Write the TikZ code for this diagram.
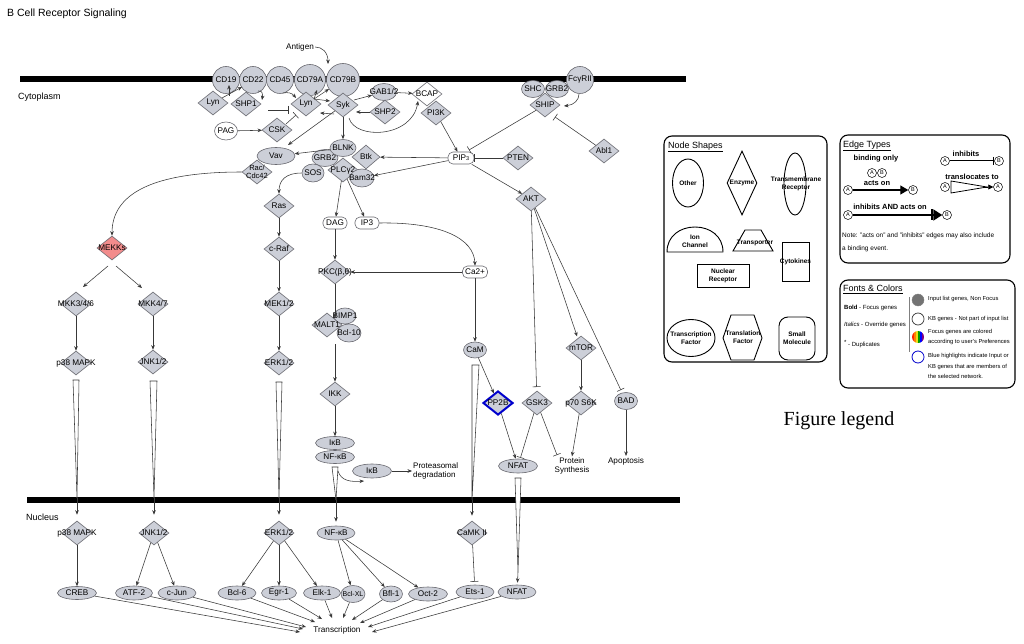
\documentclass[tikz,border=0pt]{standalone}
\usepackage{fontspec}
\setmainfont{Liberation Sans}
\newfontfamily\legserif{Liberation Serif}
\usetikzlibrary{shapes.geometric,arrows.meta,calc}
\definecolor{gfill}{RGB}{204,207,216}
\definecolor{gline}{RGB}{105,105,112}
\definecolor{pinkf}{RGB}{242,140,140}
\definecolor{hblue}{RGB}{0,0,205}
\newcommand{\zw}[1]{\makebox[0pt]{#1}}
\begin{document}
\begin{tikzpicture}[x=1pt,y=-1pt,font=\fontsize{8.2}{9}\selectfont]
\tikzset{
 gene/.style={draw=gline, fill=gfill, line width=0.6pt, inner sep=0pt},
 enz/.style={gene, diamond, minimum width=30pt, minimum height=24pt},
 oth/.style={gene, ellipse},
 memb/.style={gene, circle},
 smol/.style={draw=gline, fill=white, rectangle, rounded corners=5pt, line width=0.6pt, inner sep=0pt, minimum width=24pt, minimum height=12pt},
 con/.style={draw=black!78, line width=0.55pt},
 arr/.style={con, -{Stealth[length=4.5pt,width=3.6pt]}},
 inh/.style={con, -{Bar[width=8pt]}},
 tloc/.style={draw=black!78, fill=white, line width=0.55pt},
 txt/.style={inner sep=1pt, align=center},
 membar/.style={line width=6.5pt, black},
 legbox/.style={draw=black, line width=1.1pt, rounded corners=8pt},
 lgs/.style={draw=black, line width=0.9pt, fill=white, inner sep=0pt},
 lgshape/.style={draw=black, line width=0.9pt, fill=white},
 lgtext/.style={inner sep=0pt, align=center, font=\bfseries\fontsize{6.5}{8}\selectfont},
 lgb/.style={inner sep=0pt, font=\bfseries\fontsize{7.5}{8}\selectfont},
 lghead/.style={anchor=west, inner sep=0pt, font=\fontsize{9}{10}\selectfont},
 ab/.style={circle, draw=black, fill=white, line width=0.5pt, minimum size=9pt, inner sep=0pt, font=\fontsize{5.5}{6}\selectfont},
 fctext/.style={anchor=west, inner sep=0pt, align=left, font=\fontsize{5.8}{10.5}\selectfont},
 fcleft/.style={anchor=west, inner sep=0pt, font=\fontsize{6}{7}\selectfont},
}
\useasboundingbox (0,0) rectangle (1024,644);
\fill[white] (0,0) rectangle (1024,644);

% ---------- title and compartments
\node[anchor=west, inner sep=0pt, font=\fontsize{10.5}{12}\selectfont] (title) at (7,14) {B Cell Receptor Signaling};
\draw[membar] (20,79) -- (686,79);
\draw[membar] (27,500) -- (680,500);
\node[anchor=west, inner sep=0pt, font=\fontsize{9}{10}\selectfont] (cyto) at (18,97) {Cytoplasm};
\node[anchor=west, inner sep=0pt, font=\fontsize{9}{10}\selectfont] (nucl) at (26,517) {Nucleus};

% ---------- membrane
\node[txt] (antigen) at (300,47) {Antigen};
\node[memb, minimum size=27pt] (cd19) at (226,80) {\zw{CD19}};
\node[memb, minimum size=27pt] (cd22) at (253,80) {\zw{CD22}};
\node[memb, minimum size=27pt] (cd45) at (280,80) {\zw{CD45}};
\node[memb, minimum size=31pt] (cd79a) at (310,80) {\zw{CD79A}};
\node[memb, minimum size=33pt] (cd79b) at (343,80) {\zw{CD79B}};
\node[enz] (lynL) at (213,103) {\zw{Lyn}};
\node[enz] (shp1) at (246,104) {\zw{SHP1}};
\node[enz] (lynM) at (306,104) {\zw{Lyn}};
\node[enz] (syk) at (343,105) {\zw{Syk}};
\node[oth, fill=white, minimum width=23pt, minimum height=18pt] (pag) at (226,131) {\zw{PAG}};
\node[enz] (csk) at (277,130) {\zw{CSK}};
\node[oth, minimum width=25pt, minimum height=17pt] (gab) at (384,92) {\zw{GAB1/2}};
\node[enz] (shp2) at (385,112) {\zw{SHP2}};
\node[enz, fill=white] (bcap) at (427,94) {\zw{BCAP}};
\node[enz] (pi3k) at (436,113) {\zw{PI3K}};
\node[oth, minimum width=23pt, minimum height=17pt] (shc) at (533,89) {\zw{SHC}};
\node[oth, minimum width=23pt, minimum height=17pt] (grb2a) at (557,89) {\zw{GRB2}};
\node[memb, minimum size=27pt] (fcg) at (580,80) {\zw{FcγRII}};
\node[enz] (ship) at (545,105) {\zw{SHIP}};
\node[enz] (abl) at (604,151) {\zw{Abl1}};
\node[enz] (pten) at (518,158) {\zw{PTEN}};
\node[smol, minimum width=26pt] (pip3) at (461,158) {\zw{PIP{\fontsize{5.5}{6}\selectfont 3}}};

% ---------- BLNK cluster
\node[oth, minimum width=26pt, minimum height=17pt] (grb2b) at (325,158) {\zw{GRB2}};
\node[oth, minimum width=22pt, minimum height=18pt] (sos) at (313,173) {\zw{SOS}};
\node[oth, minimum width=26pt, minimum height=17pt] (blnk) at (343,148) {\zw{BLNK}};
\node[enz, minimum width=28pt] (btk) at (366,157) {\zw{Btk}};
\node[enz] (plc) at (343,170) {\zw{PLCγ2}};
\node[oth, minimum width=24pt, minimum height=18pt] (bam) at (362,178) {\zw{Bam32}};
\node[oth, minimum width=38pt, minimum height=17pt] (vav) at (276,156) {\zw{Vav}};
\node[enz] (rac) at (257,172) {};
\node[txt, inner sep=0pt, font=\fontsize{7.5}{8.5}\selectfont] (racl) at (rac) {Rac/\\Cdc42};
\node[enz] (akt) at (531,199) {\zw{AKT}};

% ---------- middle column
\node[enz] (ras) at (279,206) {\zw{Ras}};
\node[enz] (craf) at (279,249) {\zw{c-Raf}};
\node[enz] (mek) at (279,304) {\zw{MEK1/2}};
\node[enz] (erkc) at (279,363) {\zw{ERK1/2}};
\node[smol] (dag) at (335,223) {\zw{DAG}};
\node[smol] (ip3) at (367,223) {\zw{IP3}};
\node[enz] (pkc) at (335,272) {\zw{PKC(β,θ)}};
\node[smol, minimum width=25pt] (ca) at (475,272) {\zw{Ca2+}};
\node[enz] (malt) at (327,325) {};
\node[oth, minimum width=22pt, minimum height=16pt] (bimp) at (345,316) {\zw{BIMP1}};
\node[oth, minimum width=24pt, minimum height=18pt] (bcl10) at (349,333) {\zw{Bcl-10}};
\node[txt, inner sep=0pt] (maltl) at (malt) {MALT1};
\node[enz] (ikk) at (335,394) {\zw{IKK}};
\node[oth, minimum width=39pt, minimum height=13pt] (ikb) at (335,443) {\zw{IκB}};
\node[oth, minimum width=39pt, minimum height=13pt] (nfkb) at (335,457) {\zw{NF-κB}};
\node[oth, minimum width=39pt, minimum height=14pt] (ikb2) at (372,471) {\zw{IκB}};
\node[txt, anchor=west, align=left, font=\fontsize{8}{9.5}\selectfont] (prot) at (412,471) {Proteasomal\\degradation};

% ---------- right column
\node[oth, minimum width=23pt, minimum height=16pt] (cam) at (475,350) {\zw{CaM}};
\node[enz, draw=hblue, line width=2pt] (pp2b) at (498,403) {\zw{PP2B}};
\node[enz] (gsk) at (537,403) {\zw{GSK3}};
\node[enz] (mtor) at (581,348) {\zw{mTOR}};
\node[enz] (p70) at (581,403) {\zw{p70 S6K}};
\node[oth, minimum width=23pt, minimum height=17pt] (bad) at (626,401) {\zw{BAD}};
\node[oth, minimum width=39pt, minimum height=14pt] (nfatc) at (518,466) {\zw{NFAT}};
\node[txt, font=\fontsize{8}{9.5}\selectfont] (protsyn) at (572,466) {Protein\\Synthesis};
\node[txt] (apop) at (626,461) {Apoptosis};

% ---------- left columns
\node[enz, fill=pinkf] (mekk) at (112,248) {\zw{MEKKs}};
\node[enz] (mkk36) at (76,304) {\zw{MKK3/4/6}};
\node[enz] (mkk47) at (153,304) {\zw{MKK4/7}};
\node[enz] (p38c) at (76,363) {\zw{p38 MAPK}};
\node[enz] (jnkc) at (153,362) {\zw{JNK1/2}};

% ---------- nucleus
\node[enz] (p38n) at (77,533) {\zw{p38 MAPK}};
\node[enz] (jnkn) at (154,533) {\zw{JNK1/2}};
\node[enz] (erkn) at (279,533) {\zw{ERK1/2}};
\node[oth, minimum width=38pt, minimum height=14pt] (nfkbn) at (336,533) {\zw{NF-κB}};
\node[enz] (camk) at (472,533) {\zw{CaMK II}};
\node[oth, minimum width=39pt, minimum height=13pt] (creb) at (77,593) {\zw{CREB}};
\node[oth, minimum width=37pt, minimum height=14pt] (atf) at (134,593) {\zw{ATF-2}};
\node[oth, minimum width=38pt, minimum height=14pt] (cjun) at (177,593) {\zw{c-Jun}};
\node[oth, minimum width=38pt, minimum height=14pt] (bcl6) at (237,593) {\zw{Bcl-6}};
\node[oth, minimum width=35pt, minimum height=14pt] (egr) at (279,593) {\zw{Egr-1}};
\node[oth, minimum width=37pt, minimum height=14pt] (elk) at (322,593) {\zw{Elk-1}};
\node[oth, minimum width=24pt, minimum height=17pt] (bclxl) at (353,594) {\zw{\fontsize{7}{8}\selectfont Bcl-XL}};
\node[oth, minimum width=23pt, minimum height=16pt] (bfl) at (391,594) {\zw{Bfl-1}};
\node[oth, minimum width=39pt, minimum height=14pt] (oct) at (428,594) {\zw{Oct-2}};
\node[oth, minimum width=38pt, minimum height=14pt] (ets) at (475,592) {\zw{Ets-1}};
\node[oth, minimum width=38pt, minimum height=14pt] (nfatn) at (517,592) {\zw{NFAT}};
\node[txt] (trans) at (337,630) {Transcription};

% ================= connectors
\draw[arr] (antigen.east) .. controls (322,47) and (328,52) .. ($(cd79b)+(-15,-16)$);
\draw[arr] ($(lynL)+(16,-7)$) -- ($(cd19)+(3,5)$);
\draw[arr] ($(lynL)+(9,-5)$) -- ($(cd22)+(-11,7)$);
\draw[arr] ($(cd22)+(5,11)$) .. controls (262,90) and (263,94) .. ($(shp1)+(16,-4)$);
\draw[arr] ($(cd45)+(3,13)$) .. controls (288,92) and (292,93) .. ($(lynM)+(-10,-6)$);
\draw[inh] ($(shp1)+(22,6)$) -- ($(lynM)+(-17,6)$);
\draw[arr] ($(lynM)+(8,-5)$) -- ($(cd79a)+(7,10)$);
\draw[arr] ($(lynM)+(8,-5)$) -- ($(cd79b)+(-14,9)$);
\draw[arr] ($(lynM)+(8,-5)$) -- ($(syk)+(-13,-4)$);
\draw[arr] ($(syk)+(-9,9)$) -- ($(lynM)+(14,9)$);
\draw[inh] ($(csk)+(9,-6)$) -- ($(lynM)+(-10,11)$);
\draw[arr] (pag) -- (csk);
\draw[arr] ($(syk)+(11,-5)$) -- (gab);
\draw[arr] (shp2) -- ($(syk)+(13,7)$);
\draw[arr] (gab) -- (bcap);
\draw[arr] ($(syk)+(6,13)$) .. controls (355,140) and (412,138) .. ($(bcap)+(-9,7)$);
\draw[arr] (pi3k) -- (pip3);
\draw[inh] (ship) -- ($(pip3)+(8,-8)$);
\draw[arr] ($(fcg)+(-1,14)$) .. controls (579,100) and (574,105) .. ($(ship)+(19,1)$);
\draw[inh] (abl) -- ($(ship)+(10,12)$);
\draw[inh] (pten) -- (pip3);
\draw[arr] (pip3) -- (btk);
\draw[arr] (pip3) -- (bam);
\draw[arr] (pip3) -- (akt);
\draw[arr] (blnk) -- (vav);
\draw[arr] (syk) -- ($(vav)+(12,-11)$);
\draw[arr] (syk) -- (blnk);
\draw[arr] (rac.west) .. controls (150,172) and (112,195) .. (mekk.north);
\draw[arr] (sos.west) .. controls (286,173) and (279,180) .. (ras.north);
\draw[arr] (plc) -- (dag);
\draw[arr] (plc) -- (ip3);
\draw[arr] (dag) -- (pkc);
\draw[arr] (ip3.east) .. controls (440,222) and (474,238) .. (ca.north);
\draw[arr] (ca) -- (pkc);
\draw[arr] (ca) -- (cam);
\draw[arr] (pkc) -- ($(malt)+(8,-7)$);
\draw[arr] ($(malt)+(8,19)$) -- (ikk);
\draw[arr] (ikk) -- (ikb);
\draw[arr] ($(nfkb)+(3,14)$) .. controls (341,481) and (351,482) .. ($(ikb2)+(-8,10)$);
\draw[arr] (ikb2) -- (prot.west);
\draw[arr] (ras) -- (craf);
\draw[arr] (craf) -- (mek);
\draw[arr] (mek) -- (erkc);
\draw[arr] ($(mekk)+(-4,18)$) -- ($(mkk36)+(7,-17)$);
\draw[arr] ($(mekk)+(4,18)$) -- ($(mkk47)+(-11,-16)$);
\draw[arr] (mkk36) -- (p38c);
\draw[arr] (mkk47) -- (jnkc);
\draw[inh, shorten >=4pt] (akt) -- (gsk);
\draw[arr, shorten >=2pt] (akt) -- (mtor);
\draw[inh, shorten >=3pt] (akt) -- (bad);
\draw[arr] (cam) -- (pp2b);
\draw[arr] (pp2b) -- (nfatc);
\draw[inh, shorten >=1pt] (gsk) -- (nfatc);
\draw[inh] (gsk) -- ($(protsyn)+(-15,-11)$);
\draw[arr] (mtor) -- (p70);
\draw[arr] (p70) -- (protsyn.north);
\draw[arr] (bad) -- (apop);

% translocations
\coordinate (tp38) at (77,498);
\coordinate (tjnk) at (154,498);
\coordinate (terk) at (279,498);
\coordinate (tnfkb) at (336,500);
\coordinate (tcam) at (472,500);
\coordinate (tnfat) at (518,572);
\draw[tloc] ($(p38c)+(-3,17)$) -- ($(p38c)+(3,17)$) -- (tp38) -- cycle;
\draw[tloc] ($(jnkc)+(-3,19)$) -- ($(jnkc)+(4,19)$) -- (tjnk) -- cycle;
\draw[tloc] ($(erkc)+(-3,19)$) -- ($(erkc)+(3,19)$) -- (terk) -- cycle;
\draw[tloc] ($(nfkb)+(-3,10)$) -- ($(nfkb)+(3,10)$) -- (tnfkb) -- cycle;
\draw[tloc] ($(cam)+(-3,15)$) -- ($(cam)+(4,15)$) -- (tcam) -- cycle;
\draw[tloc] ($(nfatc)+(-3,12)$) -- ($(nfatc)+(3,12)$) -- (tnfat) -- cycle;
\draw[arr, shorten >=6pt] (tp38) -- (p38n);
\draw[arr, shorten >=6pt] (tjnk) -- (jnkn);
\draw[arr, shorten >=6pt] (terk) -- (erkn);
\draw[arr, shorten >=4pt] (tnfkb) -- (nfkbn);
\draw[arr, shorten >=5pt] (tcam) -- (camk);
\draw[arr, shorten >=2pt] (tnfat) -- (nfatn);

% nucleus
\draw[arr] (p38n) -- (creb);
\draw[arr] (jnkn) -- (atf);
\draw[arr] (jnkn) -- (cjun);
\draw[arr] (erkn) -- (bcl6);
\draw[arr] (erkn) -- (egr);
\draw[arr] (erkn) -- (elk);
\draw[arr] (nfkbn) -- (bclxl);
\draw[arr] (nfkbn) -- (bfl);
\draw[arr] (nfkbn) -- (oct);
\draw[inh, shorten >=3pt] (camk) -- (ets);
\draw[arr] (creb) -- ($(trans)+(-37,2)$);
\draw[arr] (atf) -- ($(trans)+(-34,-1)$);
\draw[arr] (cjun) -- ($(trans)+(-31,-3)$);
\draw[arr] (bcl6) -- ($(trans)+(-22,-8)$);
\draw[arr] (egr) -- ($(trans)+(-15,-11)$);
\draw[arr] (elk) -- ($(trans)+(-5,-12)$);
\draw[arr] (bclxl) -- ($(trans)+(6,-12)$);
\draw[arr] (bfl) -- ($(trans)+(15,-10)$);
\draw[arr] (oct) -- ($(trans)+(23,-7)$);
\draw[arr] (ets) -- ($(trans)+(31,-3)$);
\draw[arr] (nfatn) -- ($(trans)+(35,2)$);

% ================= legend: node shapes
\draw[legbox] (664,136) rectangle (827,362);
\node[lghead] (lgns) at (668,147) {\underline{Node Shapes}};
\node[lgs, ellipse, minimum width=31pt, minimum height=48pt] (lgOther) at (688,183) {};
\node[lgtext] (lgOthert) at (lgOther) {Other};
\node[lgs, diamond, minimum width=30pt, minimum height=64pt] (lgEnz) at (742,183) {};
\node[lgtext] (lgEnzt) at (lgEnz) {Enzyme};
\node[lgs, ellipse, minimum width=22pt, minimum height=62pt] (lgTM) at (795,184) {};
\node[lgtext] (lgTMt) at (796,184) {Transmembrane\\Receptor};
\draw[lgshape] (667,252) .. controls (667,236) and (680,227) .. (695,227) .. controls (710,227) and (723,236) .. (723,252) -- cycle;
\node[lgtext] (lgIon) at (695,241) {Ion\\Channel};
\draw[lgshape] (733,251) -- (745,230) -- (761,230) -- (773,251) -- cycle;
\node[lgtext] (lgTr) at (755,243) {Transporter};
\node[lgs, rectangle, minimum width=27pt, minimum height=39pt] (lgCyto) at (795.5,261.5) {};
\node[lgtext] (lgCytot) at (lgCyto) {Cytokines};
\node[lgs, rectangle, minimum width=52pt, minimum height=23pt] (lgNR) at (723,275.5) {};
\node[lgtext] (lgNRt) at (lgNR) {Nuclear\\Receptor};
\node[lgs, ellipse, minimum width=48pt, minimum height=37pt] (lgTF) at (691,338) {};
\node[lgtext] (lgTFt) at (lgTF) {Transcription\\Factor};
\draw[lgshape] (731,315) -- (754,315) -- (762,338) -- (754,360) -- (731,360) -- (723,338) -- cycle;
\node[lgtext] (lgTLt) at (743,337) {Translation\\Factor};
\node[lgs, rectangle, rounded corners=9pt, minimum width=36pt, minimum height=43pt] (lgSM) at (797,338.5) {};
\node[lgtext] (lgSMt) at (lgSM) {Small\\Molecule};

% ================= legend: edge types
\draw[legbox] (840,135) rectangle (1010,263);
\node[lghead] (lget) at (843,146) {\underline{Edge Types}};
\node[lgb] (lgbo) at (876,159) {binding only};
\node[ab] (bA) at (872,173) {A};
\node[ab] (bB) at (882,173) {B};
\node[lgb] (lgao) at (877,183) {acts on};
\node[ab] (aA) at (848,190) {A};
\node[ab] (aB) at (913,190) {B};
\draw[line width=1.4pt, -{Triangle[length=8pt,width=9pt]}] (aA) -- (aB);
\node[lgb] (lgia) at (890,207) {inhibits AND acts on};
\node[ab] (iaA) at (848,215) {A};
\node[ab] (iaB) at (947,215) {B};
\draw[line width=2pt, -{Bar[width=11pt,line width=2pt] Triangle[length=9pt,width=11pt]}] (iaA) -- (iaB);
\node[lgb] (lgin) at (966,154) {inhibits};
\node[ab] (iA) at (945,161) {A};
\node[ab] (iB) at (999,161) {B};
\draw[line width=1pt, -{Bar[width=8pt,line width=1.2pt]}] (iA) -- (iB);
\node[lgb] (lgtl) at (972,177) {translocates to};
\node[ab] (tA) at (945,187) {A};
\node[ab] (tA2) at (998,187) {A};
\draw[line width=0.8pt] ($(tA)+(6,-6)$) -- ($(tA)+(6,6)$) -- ($(tA)+(42,0)$) -- cycle;
\draw[line width=0.8pt, -{Triangle[length=5pt,width=5pt]}] ($(tA)+(40,0)$) -- (tA2);
\node[anchor=west, inner sep=0pt, align=left, font=\fontsize{6.5}{13}\selectfont] (note) at (842,242) {Note: "acts on" and "inhibits" edges may also include\\a binding event.};

% ================= legend: fonts & colors
\draw[legbox] (840,280) rectangle (1015,388);
\node[lghead] (lgfc) at (843,289) {\underline{Fonts \& Colors}};
\node[fcleft] (lgbold) at (844,308) {\textbf{Bold} - Focus genes};
\node[fcleft] (lgital) at (844,325) {\textit{Italics} - Override genes};
\node[fcleft] (lgdup) at (844,344) {\raisebox{2pt}{*} - Duplicates};
\draw[gray, line width=0.8pt] (909,297) -- (909,352);
\node[circle, fill=gray!90!black, draw=gray, minimum size=12pt, inner sep=0pt] (c1) at (918,300) {};
\node[circle, fill=white, draw=black!80, line width=0.7pt, minimum size=12pt, inner sep=0pt] (c2) at (918,319) {};
\node[circle, minimum size=12pt, inner sep=0pt,
  path picture={\foreach \cc [count=\i from 0] in {red!85!yellow,orange,yellow!90!black,green!60!black,blue,violet}
   {\fill[\cc] ($(path picture bounding box.south west)+(\i*2,0)$) rectangle ($(path picture bounding box.north west)+(\i*2+2,0)$);}}] (c3) at (918,337) {};
\node[circle, fill=white, draw=hblue, line width=0.8pt, minimum size=12pt, inner sep=0pt] (c4) at (918,357) {};
\node[fctext] (fc1) at (928,299) {Input list genes, Non Focus};
\node[fctext] (fc2) at (928,319) {KB genes - Not part of input list};
\node[fctext] (fc3) at (928,337) {Focus genes are colored\\according to user's Preferences};
\node[fctext] (fc4) at (928,366) {Blue highlights indicate Input or\\KB genes that are members of\\the selected network.};

% figure legend caption
\node[inner sep=0pt, font=\legserif\fontsize{20}{22}\selectfont] (figleg) at (839,421) {Figure legend};
\end{tikzpicture}
\end{document}
